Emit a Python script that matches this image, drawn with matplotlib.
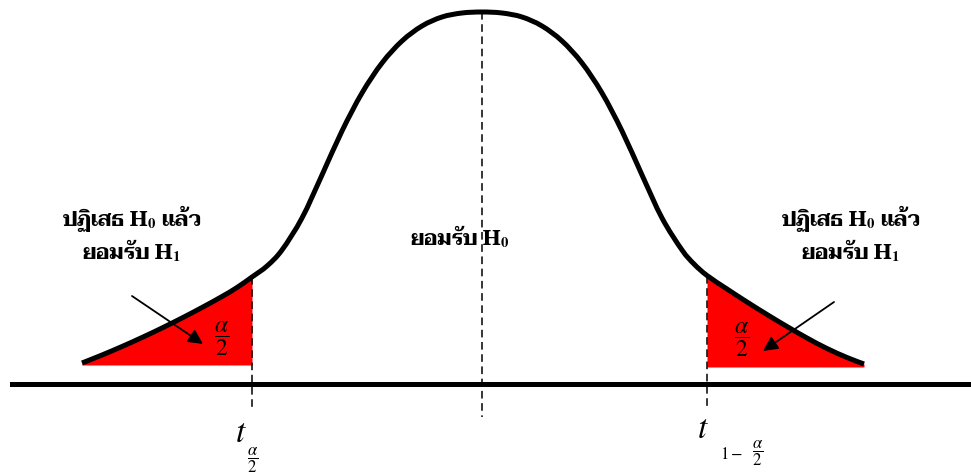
import numpy as np
import matplotlib
matplotlib.use("Agg")
import matplotlib.pyplot as plt
from matplotlib import font_manager
from matplotlib.path import Path
from matplotlib.patches import PathPatch

# --- traced curve (x in sd-like units, height above tail baseline) ---
left_x = [-4.00, -3.80, -3.60, -3.40, -3.20, -3.00, -2.80, -2.60, -2.45, -2.30,
          -2.15, -2.00, -1.80, -1.60, -1.40, -1.20, -1.00, -0.80, -0.60, -0.40, -0.20]
left_h = [0.01, 0.09, 0.175, 0.265, 0.36, 0.46, 0.565, 0.675, 0.765, 0.87,
          0.98, 1.14, 1.46, 1.89, 2.33, 2.71, 3.01, 3.23, 3.38, 3.47, 3.51]
mid_x = [0.00]
mid_h = [3.52]
right_x = [0.20, 0.40, 0.60, 0.80, 1.00, 1.20, 1.40, 1.60, 1.80, 2.00, 2.12,
           2.25, 2.45, 2.65, 2.85, 3.05, 3.25, 3.45, 3.65, 3.82]
right_h = [3.51, 3.47, 3.38, 3.23, 3.01, 2.71, 2.33, 1.89, 1.46, 1.14, 1.00,
           0.885, 0.75, 0.62, 0.495, 0.375, 0.26, 0.155, 0.065, 0.00]

t_low = -2.30    # t_{alpha/2}
t_high = 2.25    # t_{1-alpha/2}

reject_label = "ปฏิเสธ H$_{\\mathbf{0}}$ แล้ว\nยอมรับ H$_{\\mathbf{1}}$"
accept_label = "ยอมรับ H$_{\\mathbf{0}}$"

# pick a serif Thai face if one is installed
available = {f.name for f in font_manager.fontManager.ttflist}
thai_font = next((n for n in ["Taviraj", "Trirong", "Noto Serif Thai", "Pridi",
                              "Maitree", "Sarabun", "Noto Sans Thai", "Anuphan"]
                  if n in available), "DejaVu Sans")
label_family = [thai_font, "Liberation Serif"]

plt.rcParams["mathtext.fontset"] = "stix"
plt.rcParams["font.family"] = ["Liberation Serif", "DejaVu Sans"]


def smooth_path(px, py):
    # catmull-rom through the traced points, drawn as cubic beziers
    pts = np.column_stack([px, py])
    n = len(pts)
    verts = [pts[0]]
    codes = [Path.MOVETO]
    for i in range(n - 1):
        p0 = pts[max(i - 1, 0)]
        p1 = pts[i]
        p2 = pts[i + 1]
        p3 = pts[min(i + 2, n - 1)]
        verts += [p1 + (p2 - p0) / 6, p2 - (p3 - p1) / 6, p2]
        codes += [Path.CURVE4] * 3
    return Path(verts, codes)


x = np.array(left_x + mid_x + right_x)
h = np.array(left_h + mid_h + right_h)

fig = plt.figure(figsize=(9.71, 4.77), dpi=100)
ax = fig.add_axes([0, 0, 1, 1])
ax.set_xlim(-4.82, 4.89)
ax.set_ylim(-1.12, 3.65)
ax.axis("off")

# red tails
lo = x <= t_low
hi = x >= t_high
ax.fill_between(x[lo], -0.01, h[lo], color="#ff0000", lw=0)
ax.fill_between(x[hi], -0.03, h[hi], color="#ff0000", lw=0)

ax.add_patch(PathPatch(smooth_path(x, h), facecolor="none", edgecolor="black",
                       lw=3.6, capstyle="butt", joinstyle="round"))

# horizontal axis
ax.plot([-4.70, 4.89], [-0.20, -0.20], color="black", lw=3.6)

# dashed verticals
dash = dict(color="black", lw=1.1, linestyle=(0, (5, 3)))
ax.plot([0, 0], [3.52, -0.53], **dash)
ax.plot([t_low, t_low], [0.87, -0.45], **dash)
ax.plot([t_high, t_high], [0.885, -0.43], **dash)

# arrows
arrow = dict(arrowstyle="-|>", color="black", lw=1.3, mutation_scale=22, shrinkA=0, shrinkB=0)
ax.annotate("", xy=(-2.79, 0.20), xytext=(-3.50, 0.68), arrowprops=arrow)
ax.annotate("", xy=(2.81, 0.13), xytext=(3.52, 0.62), arrowprops=arrow)

# labels
ax.text(-3.50, 1.31, reject_label, ha="center", va="center", fontsize=15,
        fontweight="bold", linespacing=1.15, family=label_family)
ax.text(3.69, 1.31, reject_label, ha="center", va="center", fontsize=15,
        fontweight="bold", linespacing=1.15, family=label_family)
ax.text(-0.22, 1.28, accept_label, ha="center", va="center", fontsize=15,
        fontweight="bold", family=label_family)

ax.text(-2.60, 0.26, r"$\dfrac{\alpha}{2}$", ha="center", va="center", fontsize=17)
ax.text(2.60, 0.25, r"$\dfrac{\alpha}{2}$", ha="center", va="center", fontsize=17)

ax.text(-2.41, -0.69, r"$t$", ha="center", va="center", fontsize=24)
ax.text(-2.29, -0.95, r"$\dfrac{\alpha}{2}$", ha="center", va="center", fontsize=12)
ax.text(2.21, -0.65, r"$t$", ha="center", va="center", fontsize=24)
ax.text(2.50, -0.90, r"$1-$", ha="center", va="center", fontsize=12)
ax.text(2.76, -0.88, r"$\dfrac{\alpha}{2}$", ha="center", va="center", fontsize=12)

fig.savefig("out.png", dpi=100)
